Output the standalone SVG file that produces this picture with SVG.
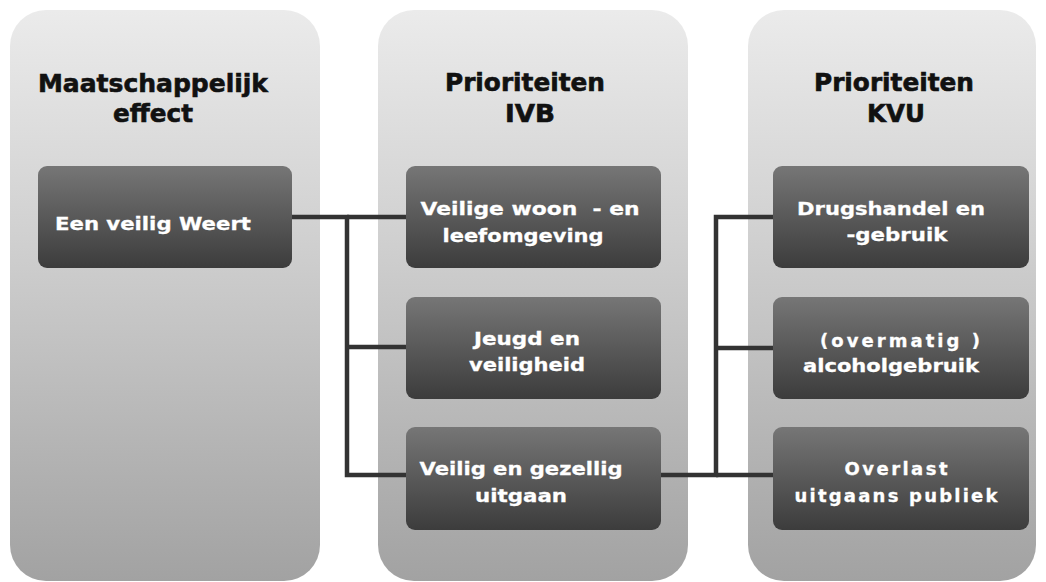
<svg xmlns="http://www.w3.org/2000/svg" width="1046" height="582" viewBox="0 0 1046 582">
<defs>
<linearGradient id="colGrad" x1="0" y1="0" x2="0" y2="1">
<stop offset="0" stop-color="#ebebeb"/>
<stop offset="0.4" stop-color="#d0d0d0"/>
<stop offset="1" stop-color="#a2a2a2"/>
</linearGradient>
<linearGradient id="boxGrad" x1="0" y1="0" x2="0" y2="1">
<stop offset="0" stop-color="#767676"/>
<stop offset="1" stop-color="#3c3c3c"/>
</linearGradient>
</defs>
<style>
.col{fill:url(#colGrad)}
.box{fill:url(#boxGrad)}
.title{font-family:"DejaVu Sans",Verdana,sans-serif;font-weight:bold;font-size:24px;fill:#111;stroke:#111;stroke-width:0.6;text-anchor:middle}
.lbl{font-family:"DejaVu Sans",Verdana,sans-serif;font-weight:bold;font-size:18px;fill:#fff;stroke:#fff;stroke-width:0.3;text-anchor:middle}
.conn{fill:none;stroke:#333;stroke-width:4.5}
</style>
<rect width="1046" height="582" fill="#ffffff"/>
<g id="column1">
<rect class="col" x="10" y="10" width="310" height="571" rx="36"/>
<text class="title" x="153" y="92" textLength="230" lengthAdjust="spacingAndGlyphs">Maatschappelijk</text>
<text class="title" x="153" y="122" textLength="80" lengthAdjust="spacingAndGlyphs">effect</text>
</g>
<g id="column2">
<rect class="col" x="378" y="10" width="310" height="571" rx="36"/>
<text class="title" x="525" y="91" textLength="160" lengthAdjust="spacingAndGlyphs">Prioriteiten</text>
<text class="title" x="530" y="122" textLength="50" lengthAdjust="spacingAndGlyphs">IVB</text>
</g>
<g id="column3">
<rect class="col" x="748" y="10" width="288" height="571" rx="36"/>
<text class="title" x="894" y="91" textLength="160" lengthAdjust="spacingAndGlyphs">Prioriteiten</text>
<text class="title" x="896" y="122" textLength="58" lengthAdjust="spacingAndGlyphs">KVU</text>
</g>
<g id="connectors">
<polyline class="conn" points="292,217 347,217 347,475 406,475"/>
<line class="conn" x1="347" y1="217" x2="406" y2="217"/>
<line class="conn" x1="347" y1="347" x2="406" y2="347"/>
<polyline class="conn" points="661,475 716,475 716,217 773,217"/>
<line class="conn" x1="716" y1="348" x2="773" y2="348"/>
<line class="conn" x1="716" y1="475" x2="773" y2="475"/>
</g>
<g id="node-weert">
<rect class="box" x="38" y="166" width="254" height="102" rx="9"/>
<text class="lbl" x="153" y="230" textLength="196" lengthAdjust="spacingAndGlyphs">Een veilig Weert</text>
</g>
<g id="node-woon">
<rect class="box" x="406" y="166" width="255" height="102" rx="9"/>
<text class="lbl" x="530" y="215" textLength="219" lengthAdjust="spacingAndGlyphs" xml:space="preserve">Veilige woon  - en</text>
<text class="lbl" x="523" y="242" textLength="161" lengthAdjust="spacingAndGlyphs">leefomgeving</text>
</g>
<g id="node-jeugd">
<rect class="box" x="406" y="297" width="255" height="102" rx="9"/>
<text class="lbl" x="527" y="345" textLength="106" lengthAdjust="spacingAndGlyphs">Jeugd en</text>
<text class="lbl" x="527" y="371" textLength="116" lengthAdjust="spacingAndGlyphs">veiligheid</text>
</g>
<g id="node-uitgaan">
<rect class="box" x="406" y="427" width="255" height="103" rx="9"/>
<text class="lbl" x="521" y="475" textLength="203" lengthAdjust="spacingAndGlyphs">Veilig en gezellig</text>
<text class="lbl" x="521" y="502" textLength="92" lengthAdjust="spacingAndGlyphs">uitgaan</text>
</g>
<g id="node-drugs">
<rect class="box" x="773" y="166" width="256" height="102" rx="9"/>
<text class="lbl" x="891" y="215" textLength="188" lengthAdjust="spacingAndGlyphs">Drugshandel en</text>
<text class="lbl" x="897" y="241" textLength="101" lengthAdjust="spacingAndGlyphs">-gebruik</text>
</g>
<g id="node-alcohol">
<rect class="box" x="773" y="297" width="256" height="102" rx="9"/>
<text class="lbl" x="900" y="347" textLength="160" lengthAdjust="spacing" xml:space="preserve">(overmatig )</text>
<text class="lbl" x="891" y="372" textLength="176" lengthAdjust="spacingAndGlyphs">alcoholgebruik</text>
</g>
<g id="node-overlast">
<rect class="box" x="773" y="427" width="256" height="103" rx="9"/>
<text class="lbl" x="896" y="475" textLength="103" lengthAdjust="spacing">Overlast</text>
<text class="lbl" x="896" y="502" textLength="203" lengthAdjust="spacing">uitgaans publiek</text>
</g>
</svg>
